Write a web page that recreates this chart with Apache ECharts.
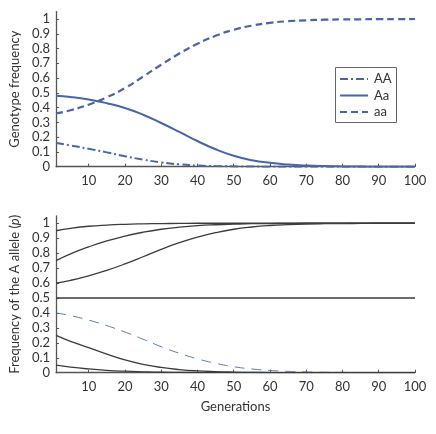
<!DOCTYPE html>
<html><head><meta charset="utf-8">
<script src="https://cdn.jsdelivr.net/npm/echarts@6/dist/echarts.min.js"></script>
<style>html,body{margin:0;padding:0;background:#fff}#c{width:436px;height:434px}</style>
</head><body><div id="c"></div>
<script>
const generations = [1,5,10,15,20,25,30,35,40,45,50,55,60,65,70,75,80,85,90,95,100];
const xTicks = [10,20,30,40,50,60,70,80,90,100];
const yTicks = [0,0.1,0.2,0.3,0.4,0.5,0.6,0.7,0.8,0.9,1];
const legendNames = ['AA','Aa','aa'];
// top panel: genotype frequencies
const freqAA = [0.16,0.144,0.121,0.097,0.071,0.048,0.029,0.016,0.008,0.004,0.002,0.001,0,0,0,0,0,0,0,0,0];
const freqAa = [0.48,0.472,0.455,0.43,0.397,0.352,0.296,0.236,0.174,0.118,0.074,0.044,0.026,0.015,0.008,0.004,0.002,0.001,0,0,0];
const freqaa = [0.36,0.382,0.42,0.47,0.532,0.61,0.69,0.766,0.832,0.886,0.927,0.955,0.974,0.985,0.991,0.995,0.997,0.998,0.999,0.999,1];
// bottom panel: frequency of A allele from different starting points
const p95 = [0.95,0.966,0.98,0.988,0.993,0.996,0.998,0.999,1,1,1,1,1,1,1,1,1,1,1,1,1];
const p75 = [0.75,0.795,0.842,0.882,0.914,0.94,0.96,0.974,0.984,0.99,0.994,0.997,0.998,0.999,1,1,1,1,1,1,1];
const p60 = [0.60,0.618,0.648,0.685,0.728,0.776,0.826,0.87,0.907,0.937,0.96,0.975,0.985,0.991,0.995,0.997,0.998,0.999,1,1,1];
const p50 = [0.5,0.5,0.5,0.5,0.5,0.5,0.5,0.5,0.5,0.5,0.5,0.5,0.5,0.5,0.5,0.5,0.5,0.5,0.5,0.5,0.5];
const p40 = [0.40,0.382,0.352,0.315,0.272,0.224,0.174,0.13,0.093,0.063,0.04,0.025,0.015,0.009,0.005,0.003,0.002,0.001,0,0,0];
const p25 = [0.25,0.21,0.168,0.124,0.085,0.056,0.035,0.021,0.012,0.007,0.004,0.002,0.001,0,0,0,0,0,0,0,0];
const p05 = [0.05,0.037,0.025,0.016,0.01,0.006,0.003,0.002,0.001,0,0,0,0,0,0,0,0,0,0,0,0];

const zip = a => generations.map((g,i)=>[g,a[i]]);
const FONT = 'Lato';
const axisCol = '#555';
const blue = '#4666a8';
const gray = '#3c3c3c';
const dashAA = [8,3,2,3];
const dashaa = [7,4];

function xAxis(idx, showName){
  return {
    type:'value', gridIndex:idx, min:1, max:100,
    axisLine:{show:true, lineStyle:{color:axisCol, width:1.3}},
    axisTick:{show:true, inside:true, length:3, customValues:xTicks, lineStyle:{color:axisCol}},
    axisLabel:{customValues:xTicks, color:'#333', fontFamily:FONT, fontSize:13, margin:8},
    splitLine:{show:false},
    name: showName ? 'Generations' : '',
    nameLocation:'middle', nameGap:28,
    nameTextStyle:{color:'#333', fontFamily:FONT, fontSize:13}
  };
}
function yAxis(idx, name){
  return {
    type:'value', gridIndex:idx, min:0, max:1.05,
    axisLine:{show:true, lineStyle:{color:axisCol, width:1.3}},
    axisTick:{show:true, inside:true, length:3, customValues:yTicks, lineStyle:{color:axisCol}},
    axisLabel:{customValues:yTicks, color:'#333', fontFamily:FONT, fontSize:13, margin:6,
      formatter: v => String(Math.round(v*10)/10)},
    splitLine:{show:false},
    name: name, nameLocation:'middle', nameGap:27,
    nameTextStyle:{color:'#333', fontFamily:FONT, fontSize:13,
      rich:{i:{fontStyle:'italic', fontFamily:FONT, fontSize:13, color:'#333'}}}
  };
}
function line(name, data, xi, color, width, type){
  return {name, type:'line', xAxisIndex:xi, yAxisIndex:xi, data:zip(data), smooth:true,
    symbol:'none', showSymbol:false, lineStyle:{color, width, type}, itemStyle:{color}, z:2,
    silent:true};
}

// legend drawn as graphic (box 335..396 x 67..122)
const legendStyles = [dashAA, 'solid', dashaa];
const legendGraphic = [{
  type:'rect', left:335, top:67, shape:{width:61, height:55},
  style:{fill:'#fff', stroke:'#666', lineWidth:1}, z:10
}];
legendNames.forEach((n,i)=>{
  const y = 79 + i*16.5;
  legendGraphic.push({type:'line', shape:{x1:340, y1:y, x2:368, y2:y},
    style:{stroke:blue, lineWidth:2, lineDash: legendStyles[i]==='solid'?null:legendStyles[i]}, z:11});
  legendGraphic.push({type:'text', x:374, y:y, style:{text:n, fill:'#333', font:'13px '+FONT,
    textVerticalAlign:'middle', verticalAlign:'middle'}, z:11});
});

const chart = echarts.init(document.getElementById('c'), null, {renderer:'canvas'});
chart.setOption({
  animation:false,
  backgroundColor:'#fff',
  grid:[
    {left:53, width:362, top:11.6, height:155.1},
    {left:53, width:362, top:215.8, height:156.9}
  ],
  xAxis:[xAxis(0,false), xAxis(1,true)],
  yAxis:[yAxis(0,'Genotype frequency'), yAxis(1,'Frequency of the A allele ({i|p})')],
  graphic: legendGraphic,
  series:[
    line('AA', freqAA, 0, blue, 2, dashAA),
    line('Aa', freqAa, 0, blue, 2, 'solid'),
    line('aa', freqaa, 0, blue, 2.2, dashaa),
    line('p95', p95, 1, gray, 1.3, 'solid'),
    line('p75', p75, 1, gray, 1.3, 'solid'),
    line('p60', p60, 1, gray, 1.3, 'solid'),
    line('p50', p50, 1, gray, 1.3, 'solid'),
    line('p40', p40, 1, '#5a78b8', 1, [10,7]),
    line('p25', p25, 1, gray, 1.3, 'solid'),
    line('p05', p05, 1, gray, 1.3, 'solid')
  ]
});
</script></body></html>
